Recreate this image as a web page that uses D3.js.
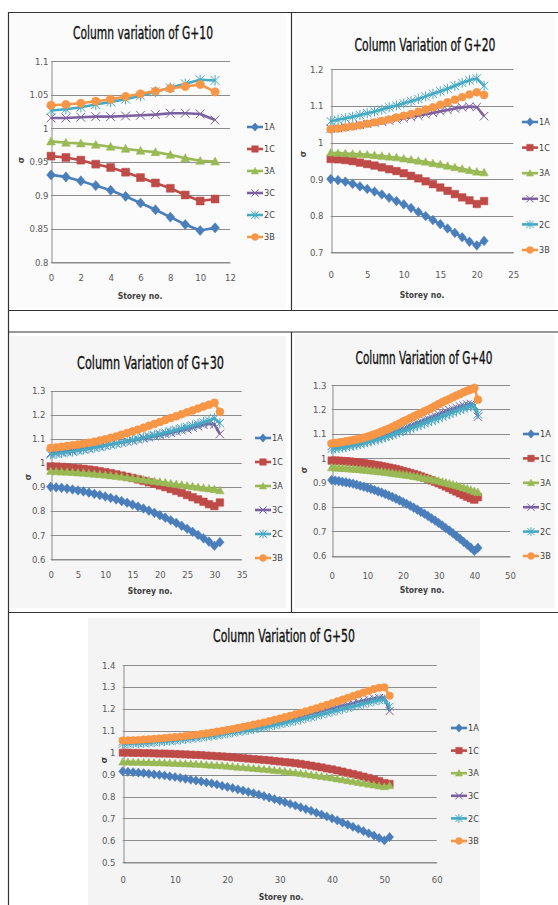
<!DOCTYPE html>
<html>
<head>
<meta charset="utf-8">
<script src="https://cdn.jsdelivr.net/npm/d3@7"></script>
<style>
  body { margin: 0; background: #fff; }
  svg { display: block; }
</style>
</head>
<body>
<svg id="chart" width="558" height="905"></svg>
<script>
// ---- Series names and colours ----
const seriesNames = ["1A", "1C", "3A", "3C", "2C", "3B"];
const seriesColors = ["#4a7ebb", "#be4b48", "#98b954", "#7d60a0", "#46aac5", "#f79646"];
const seriesMarkers = ["diamond", "square", "triangle", "x", "star", "circle"];

// ---- G+10 (storeys 0..11) ----
const g10_1A = [0.930, 0.927, 0.921, 0.914, 0.907, 0.898, 0.888, 0.878, 0.867, 0.856, 0.847, 0.851];
const g10_1C = [0.958, 0.956, 0.952, 0.946, 0.941, 0.934, 0.926, 0.918, 0.910, 0.900, 0.891, 0.894];
const g10_3A = [0.980, 0.978, 0.977, 0.975, 0.972, 0.969, 0.966, 0.964, 0.960, 0.955, 0.951, 0.950];
const g10_3C = [1.015, 1.015, 1.016, 1.017, 1.017, 1.018, 1.019, 1.020, 1.022, 1.022, 1.021, 1.012];
const g10_2C = [1.026, 1.028, 1.031, 1.035, 1.039, 1.043, 1.048, 1.054, 1.060, 1.066, 1.072, 1.071];
const g10_3B = [1.034, 1.035, 1.037, 1.040, 1.043, 1.047, 1.051, 1.055, 1.059, 1.062, 1.065, 1.054];

// ---- G+20 (storeys 0..21) ----
const g20_1A = [0.900, 0.897, 0.893, 0.887, 0.880, 0.873, 0.866, 0.858, 0.849, 0.840, 0.831, 0.821, 0.810, 0.799, 0.788, 0.777, 0.765, 0.753, 0.741, 0.729, 0.719, 0.731];
const g20_1C = [0.955, 0.954, 0.952, 0.949, 0.945, 0.941, 0.937, 0.932, 0.927, 0.922, 0.916, 0.909, 0.902, 0.894, 0.886, 0.877, 0.868, 0.859, 0.850, 0.842, 0.832, 0.840];
const g20_3A = [0.972, 0.971, 0.970, 0.969, 0.968, 0.967, 0.965, 0.963, 0.961, 0.959, 0.956, 0.953, 0.950, 0.947, 0.943, 0.940, 0.936, 0.932, 0.928, 0.924, 0.920, 0.918];
const g20_3C = [1.038, 1.040, 1.042, 1.045, 1.048, 1.051, 1.054, 1.057, 1.060, 1.063, 1.066, 1.070, 1.073, 1.077, 1.081, 1.085, 1.089, 1.093, 1.096, 1.098, 1.097, 1.072];
const g20_2C = [1.058, 1.062, 1.066, 1.070, 1.075, 1.080, 1.085, 1.090, 1.096, 1.101, 1.107, 1.113, 1.119, 1.126, 1.133, 1.140, 1.147, 1.155, 1.163, 1.170, 1.175, 1.155];
const g20_3B = [1.036, 1.038, 1.041, 1.044, 1.047, 1.051, 1.055, 1.059, 1.063, 1.068, 1.073, 1.078, 1.084, 1.090, 1.096, 1.103, 1.110, 1.117, 1.124, 1.131, 1.137, 1.130];

// ---- G+30 (storeys 0..31) ----
const g30_1A = [0.900, 0.898, 0.896, 0.893, 0.889, 0.885, 0.881, 0.876, 0.871, 0.866, 0.860, 0.854, 0.848, 0.841, 0.834, 0.826, 0.818, 0.810, 0.801, 0.792, 0.782, 0.772, 0.761, 0.750, 0.738, 0.726, 0.713, 0.700, 0.686, 0.672, 0.655, 0.670];
const g30_1C = [0.985, 0.984, 0.983, 0.981, 0.979, 0.977, 0.975, 0.972, 0.969, 0.965, 0.961, 0.957, 0.952, 0.947, 0.942, 0.937, 0.931, 0.925, 0.919, 0.913, 0.906, 0.899, 0.891, 0.883, 0.875, 0.866, 0.857, 0.848, 0.838, 0.828, 0.820, 0.835];
const g30_3A = [0.965, 0.964, 0.963, 0.962, 0.961, 0.959, 0.958, 0.956, 0.954, 0.952, 0.950, 0.947, 0.945, 0.942, 0.939, 0.936, 0.933, 0.930, 0.927, 0.924, 0.921, 0.918, 0.914, 0.911, 0.908, 0.905, 0.902, 0.899, 0.896, 0.893, 0.890, 0.885];
const g30_3C = [1.040, 1.043, 1.046, 1.049, 1.052, 1.055, 1.058, 1.062, 1.065, 1.069, 1.073, 1.077, 1.081, 1.085, 1.089, 1.093, 1.097, 1.102, 1.106, 1.111, 1.115, 1.120, 1.125, 1.130, 1.135, 1.140, 1.146, 1.152, 1.158, 1.163, 1.160, 1.120];
const g30_2C = [1.035, 1.038, 1.041, 1.044, 1.047, 1.051, 1.055, 1.059, 1.063, 1.067, 1.071, 1.076, 1.080, 1.085, 1.090, 1.095, 1.100, 1.105, 1.110, 1.115, 1.120, 1.126, 1.131, 1.137, 1.143, 1.149, 1.155, 1.162, 1.169, 1.176, 1.185, 1.165];
const g30_3B = [1.062, 1.064, 1.067, 1.070, 1.073, 1.076, 1.080, 1.084, 1.088, 1.093, 1.098, 1.104, 1.110, 1.117, 1.124, 1.131, 1.138, 1.146, 1.154, 1.162, 1.170, 1.178, 1.186, 1.194, 1.202, 1.210, 1.218, 1.226, 1.234, 1.242, 1.250, 1.212];

// ---- G+40 (storeys 0..41) ----
const g40_1A = [0.910, 0.908, 0.906, 0.903, 0.901, 0.898, 0.895, 0.891, 0.887, 0.883, 0.879, 0.874, 0.869, 0.864, 0.859, 0.853, 0.847, 0.841, 0.834, 0.827, 0.820, 0.813, 0.805, 0.797, 0.789, 0.780, 0.772, 0.763, 0.753, 0.744, 0.734, 0.724, 0.713, 0.703, 0.692, 0.680, 0.669, 0.657, 0.645, 0.633, 0.620, 0.632];
const g40_1C = [0.990, 0.990, 0.989, 0.988, 0.987, 0.986, 0.984, 0.983, 0.981, 0.979, 0.977, 0.975, 0.972, 0.970, 0.967, 0.964, 0.961, 0.958, 0.955, 0.951, 0.947, 0.943, 0.939, 0.935, 0.930, 0.925, 0.920, 0.915, 0.909, 0.903, 0.897, 0.891, 0.884, 0.877, 0.870, 0.863, 0.856, 0.849, 0.842, 0.836, 0.830, 0.840];
const g40_3A = [0.962, 0.961, 0.960, 0.959, 0.958, 0.957, 0.956, 0.955, 0.954, 0.952, 0.951, 0.949, 0.948, 0.946, 0.945, 0.943, 0.941, 0.939, 0.937, 0.935, 0.933, 0.931, 0.929, 0.926, 0.924, 0.921, 0.918, 0.916, 0.913, 0.910, 0.907, 0.903, 0.900, 0.896, 0.892, 0.888, 0.884, 0.879, 0.875, 0.870, 0.865, 0.860];
const g40_3C = [1.050, 1.051, 1.052, 1.054, 1.056, 1.058, 1.060, 1.063, 1.066, 1.069, 1.072, 1.076, 1.080, 1.084, 1.088, 1.093, 1.098, 1.103, 1.108, 1.114, 1.120, 1.126, 1.132, 1.138, 1.144, 1.150, 1.156, 1.162, 1.168, 1.174, 1.180, 1.186, 1.192, 1.197, 1.202, 1.207, 1.212, 1.216, 1.220, 1.222, 1.215, 1.170];
const g40_2C = [1.038, 1.040, 1.042, 1.044, 1.046, 1.049, 1.052, 1.055, 1.058, 1.062, 1.066, 1.070, 1.074, 1.078, 1.082, 1.087, 1.092, 1.097, 1.102, 1.107, 1.112, 1.117, 1.122, 1.127, 1.133, 1.138, 1.143, 1.149, 1.154, 1.160, 1.165, 1.171, 1.176, 1.182, 1.188, 1.194, 1.199, 1.204, 1.209, 1.213, 1.215, 1.180];
const g40_3B = [1.060, 1.062, 1.064, 1.066, 1.069, 1.071, 1.074, 1.077, 1.080, 1.084, 1.088, 1.093, 1.098, 1.103, 1.109, 1.115, 1.121, 1.128, 1.135, 1.142, 1.150, 1.157, 1.164, 1.171, 1.178, 1.185, 1.192, 1.199, 1.206, 1.214, 1.222, 1.229, 1.236, 1.243, 1.250, 1.257, 1.263, 1.270, 1.276, 1.282, 1.288, 1.240];

// ---- G+50 (storeys 0..51) ----
const g50_1A = [0.915, 0.913, 0.911, 0.909, 0.907, 0.904, 0.901, 0.899, 0.896, 0.892, 0.889, 0.885, 0.881, 0.877, 0.873, 0.869, 0.864, 0.860, 0.855, 0.849, 0.844, 0.839, 0.833, 0.827, 0.821, 0.815, 0.809, 0.802, 0.795, 0.788, 0.781, 0.774, 0.766, 0.759, 0.751, 0.743, 0.735, 0.726, 0.718, 0.709, 0.700, 0.691, 0.681, 0.672, 0.662, 0.652, 0.642, 0.632, 0.622, 0.611, 0.600, 0.615];
const g50_1C = [1.000, 1.000, 0.999, 0.999, 0.998, 0.998, 0.997, 0.996, 0.996, 0.995, 0.994, 0.993, 0.992, 0.991, 0.990, 0.989, 0.987, 0.986, 0.984, 0.983, 0.981, 0.979, 0.977, 0.975, 0.973, 0.971, 0.969, 0.967, 0.965, 0.962, 0.960, 0.957, 0.955, 0.952, 0.949, 0.945, 0.941, 0.937, 0.933, 0.928, 0.924, 0.919, 0.914, 0.908, 0.903, 0.897, 0.891, 0.885, 0.878, 0.871, 0.862, 0.858];
const g50_3A = [0.958, 0.958, 0.957, 0.957, 0.956, 0.956, 0.955, 0.955, 0.954, 0.953, 0.952, 0.951, 0.950, 0.949, 0.948, 0.947, 0.945, 0.944, 0.942, 0.941, 0.939, 0.937, 0.935, 0.933, 0.931, 0.929, 0.927, 0.925, 0.923, 0.920, 0.918, 0.915, 0.912, 0.909, 0.906, 0.903, 0.899, 0.896, 0.892, 0.889, 0.885, 0.881, 0.877, 0.873, 0.869, 0.865, 0.861, 0.857, 0.853, 0.849, 0.845, 0.850];
const g50_3C = [1.050, 1.051, 1.052, 1.053, 1.054, 1.055, 1.057, 1.059, 1.061, 1.063, 1.065, 1.067, 1.070, 1.073, 1.076, 1.079, 1.082, 1.085, 1.089, 1.093, 1.097, 1.101, 1.105, 1.109, 1.113, 1.118, 1.123, 1.128, 1.133, 1.138, 1.143, 1.148, 1.154, 1.160, 1.166, 1.172, 1.178, 1.184, 1.190, 1.196, 1.202, 1.208, 1.214, 1.220, 1.226, 1.232, 1.238, 1.243, 1.247, 1.250, 1.250, 1.190];
const g50_2C = [1.040, 1.041, 1.042, 1.043, 1.044, 1.046, 1.048, 1.050, 1.052, 1.054, 1.056, 1.059, 1.062, 1.065, 1.068, 1.071, 1.074, 1.077, 1.080, 1.084, 1.088, 1.092, 1.096, 1.100, 1.104, 1.108, 1.112, 1.116, 1.121, 1.126, 1.131, 1.136, 1.141, 1.146, 1.151, 1.157, 1.163, 1.169, 1.175, 1.181, 1.187, 1.193, 1.199, 1.205, 1.211, 1.217, 1.223, 1.229, 1.235, 1.240, 1.243, 1.210];
const g50_3B = [1.055, 1.056, 1.057, 1.058, 1.060, 1.061, 1.063, 1.065, 1.067, 1.069, 1.071, 1.073, 1.076, 1.079, 1.082, 1.085, 1.088, 1.092, 1.096, 1.100, 1.104, 1.108, 1.113, 1.118, 1.123, 1.128, 1.133, 1.138, 1.144, 1.150, 1.156, 1.162, 1.168, 1.175, 1.182, 1.189, 1.196, 1.203, 1.210, 1.218, 1.226, 1.234, 1.242, 1.250, 1.258, 1.266, 1.274, 1.282, 1.290, 1.296, 1.298, 1.260];

// ---- Titles and axis ticks ----
const titles = ["Column variation of G+10", "Column Variation of G+20", "Column Variation of G+30", "Column Variation of G+40", "Column Variation of G+50"];
const xTicks10 = [0, 2, 4, 6, 8, 10, 12];
const xTicks20 = [0, 5, 10, 15, 20, 25];
const xTicks30 = [0, 5, 10, 15, 20, 25, 30, 35];
const xTicks40 = [0, 10, 20, 30, 40, 50];
const xTicks50 = [0, 10, 20, 30, 40, 50, 60];
const yTicks10 = [0.8, 0.85, 0.9, 0.95, 1, 1.05, 1.1];
const yTicks20 = [0.7, 0.8, 0.9, 1, 1.1, 1.2];
const yTicks30 = [0.6, 0.7, 0.8, 0.9, 1, 1.1, 1.2, 1.3];
const yTicks40 = [0.6, 0.7, 0.8, 0.9, 1, 1.1, 1.2, 1.3];
const yTicks50 = [0.5, 0.6, 0.7, 0.8, 0.9, 1, 1.1, 1.2, 1.3, 1.4];
const xLabel = "Storey no.";
const yLabel = "σ";

// ---- Panel layout ----
const panels = [
  { title: titles[0], series: [g10_1A, g10_1C, g10_3A, g10_3C, g10_2C, g10_3B], xTicks: xTicks10, yTicks: yTicks10,
    bg: [10, 14, 276, 294], bgFill: "#fbfbfb",
    left: 51, right: 230, top: 61, bottom: 262, yPad: 3, xLabY: 280,
    titleX: 143, titleY: 39, titleW: 140, axX: 140, axY: 299, sigX: 21, sigY: 160,
    legX: 247, legY: 127, legStep: 22, mk: 4.4, lw: 2.6 },
  { title: titles[1], series: [g20_1A, g20_1C, g20_3A, g20_3C, g20_2C, g20_3B], xTicks: xTicks20, yTicks: yTicks20,
    bg: [295, 14, 260, 294], bgFill: "#fbfbfb",
    left: 330.7, right: 513.3, top: 69.3, bottom: 252.3, yPad: 8, xLabY: 277,
    titleX: 425, titleY: 51, titleW: 141, axX: 422, axY: 298, sigX: 303, sigY: 154,
    legX: 522, legY: 122, legStep: 25.6, mk: 4.2, lw: 2.6 },
  { title: titles[2], series: [g30_1A, g30_1C, g30_3A, g30_3C, g30_2C, g30_3B], xTicks: xTicks30, yTicks: yTicks30,
    bg: [10, 336, 276, 272], bgFill: "#f6f6f6",
    left: 50.7, right: 241.7, top: 390.7, bottom: 559, yPad: 6, xLabY: 577,
    titleX: 150.5, titleY: 369, titleW: 147, axX: 150, axY: 594, sigX: 28, sigY: 477,
    legX: 255, legY: 438, legStep: 24, mk: 4.2, lw: 2.6 },
  { title: titles[3], series: [g40_1A, g40_1C, g40_3A, g40_3C, g40_2C, g40_3B], xTicks: xTicks40, yTicks: yTicks40,
    bg: [295, 334, 260, 274], bgFill: "#f6f6f6",
    left: 331.7, right: 510, top: 385, bottom: 555.7, yPad: 6, xLabY: 578,
    titleX: 424, titleY: 364, titleW: 137, axX: 422, axY: 593, sigX: 304, sigY: 470,
    legX: 523, legY: 434, legStep: 24.4, mk: 4.2, lw: 2.6 },
  { title: titles[4], series: [g50_1A, g50_1C, g50_3A, g50_3C, g50_2C, g50_3B], xTicks: xTicks50, yTicks: yTicks50,
    bg: [88, 618, 392, 287], bgFill: "#f4f4f4",
    left: 122.7, right: 436.7, top: 665, bottom: 862.3, yPad: 8, xLabY: 882,
    titleX: 284, titleY: 642, titleW: 142, axX: 281, axY: 900, sigX: 104, sigY: 760,
    legX: 451, legY: 728, legStep: 22.6, mk: 4.0, lw: 2.6 }
];

const FONT = "'Liberation Sans Narrow', 'DejaVu Sans Condensed', 'Open Sans', sans-serif";
const svg = d3.select("#chart");

// Marker path for a given shape and half-size
function markerPath(shape, s) {
  switch (shape) {
    case "diamond": return `M0,${-s * 1.15}L${s},0L0,${s * 1.15}L${-s},0Z`;
    case "square": return `M${-s * 0.9},${-s * 0.9}h${s * 1.8}v${s * 1.8}h${-s * 1.8}Z`;
    case "triangle": return `M0,${-s}L${s},${s * 0.8}L${-s},${s * 0.8}Z`;
    case "x": return `M${-s},${-s}L${s},${s}M${-s},${s}L${s},${-s}`;
    case "star": return `M${-s},${-s}L${s},${s}M${-s},${s}L${s},${-s}M0,${-s * 1.2}L0,${s * 1.2}`;
    case "circle": return d3.arc()({ innerRadius: 0, outerRadius: s * 0.95, startAngle: 0, endAngle: 2 * Math.PI });
  }
}
const stroked = shape => shape === "x" || shape === "star";

function drawMarker(g, shape, color, cx, cy, s) {
  g.append("path")
    .attr("d", markerPath(shape, s))
    .attr("transform", `translate(${cx},${cy})`)
    .attr("fill", stroked(shape) ? "none" : color)
    .attr("stroke", color)
    .attr("stroke-width", stroked(shape) ? 1 : 0.5);
}

function drawPanel(p) {
  const g = svg.append("g");
  g.append("rect")
    .attr("x", p.bg[0]).attr("y", p.bg[1]).attr("width", p.bg[2]).attr("height", p.bg[3])
    .attr("fill", p.bgFill);

  const x = d3.scaleLinear().domain([p.xTicks[0], p.xTicks[p.xTicks.length - 1]]).range([p.left, p.right]);
  const y = d3.scaleLinear().domain([p.yTicks[0], p.yTicks[p.yTicks.length - 1]]).range([p.bottom, p.top]);

  // horizontal gridlines
  g.append("g").selectAll("line").data(p.yTicks).join("line")
    .attr("x1", p.left).attr("x2", p.right)
    .attr("y1", d => Math.round(y(d)) + 0.5).attr("y2", d => Math.round(y(d)) + 0.5)
    .attr("stroke", "#8c8c8c").attr("stroke-width", 1);

  // y axis
  const yAxis = g.append("g").attr("transform", `translate(${Math.round(p.left) + 0.5},0)`)
    .call(d3.axisLeft(y).tickValues(p.yTicks).tickSize(0).tickSizeOuter(0).tickPadding(p.yPad)
      .tickFormat(d => String(+d.toFixed(2))));
  yAxis.select(".domain").attr("stroke", "#8c8c8c");
  yAxis.selectAll("text").attr("font-family", FONT).attr("font-size", 9.5).attr("fill", "#595959");

  // x axis
  const xAxis = g.append("g").attr("transform", `translate(0,${Math.round(p.bottom) + 0.5})`)
    .call(d3.axisBottom(x).tickValues(p.xTicks).tickSize(0).tickSizeOuter(0).tickPadding(0)
      .tickFormat(d3.format("d")));
  xAxis.select(".domain").attr("stroke", "#8c8c8c");
  xAxis.selectAll("text").attr("font-family", FONT).attr("font-size", 9.5).attr("fill", "#595959")
    .attr("dy", null).attr("y", p.xLabY - Math.round(p.bottom));

  // title: tall condensed lettering, squeezed horizontally to its column width
  const tg = g.append("g");
  const tt = tg.append("text").attr("x", 0).attr("y", 0).attr("text-anchor", "middle")
    .attr("font-family", FONT).attr("font-size", 17.5).attr("fill", "#111")
    .attr("stroke", "#111").attr("stroke-width", 0.35)
    .text(p.title);
  const natural = tt.node().getComputedTextLength();
  const sx = Math.min(1, p.titleW / natural);
  tg.attr("transform", `translate(${p.titleX},${p.titleY}) scale(${sx},1)`);

  // axis titles
  g.append("text").attr("x", p.axX).attr("y", p.axY).attr("text-anchor", "middle")
    .attr("font-family", FONT).attr("font-size", 8.5).attr("font-weight", "bold").attr("fill", "#404040")
    .text(xLabel);
  g.append("text").attr("transform", `translate(${p.sigX},${p.sigY}) rotate(-90)`)
    .attr("text-anchor", "middle").attr("dy", "0.35em")
    .attr("font-family", FONT).attr("font-size", 9).attr("font-weight", "bold").attr("fill", "#404040")
    .text(yLabel);

  // series lines and markers
  const line = d3.line().x((d, i) => x(i)).y(d => y(d));
  p.series.forEach((vals, si) => {
    const color = seriesColors[si];
    const sg = g.append("g");
    sg.append("path").datum(vals).attr("d", line)
      .attr("fill", "none").attr("stroke", color).attr("stroke-width", p.lw)
      .attr("stroke-linejoin", "round");
    vals.forEach((v, i) => drawMarker(sg, seriesMarkers[si], color, x(i), y(v), p.mk));
  });

  // legend
  seriesNames.forEach((name, si) => {
    const ly = p.legY + si * p.legStep;
    const color = seriesColors[si];
    g.append("line").attr("x1", p.legX).attr("x2", p.legX + 16).attr("y1", ly).attr("y2", ly)
      .attr("stroke", color).attr("stroke-width", 2.6);
    drawMarker(g, seriesMarkers[si], color, p.legX + 8, ly, 3.6);
    g.append("text").attr("x", p.legX + 17).attr("y", ly).attr("dy", "0.35em")
      .attr("font-family", FONT).attr("font-size", 9).attr("fill", "#404040")
      .text(name);
  });
}

panels.forEach(drawPanel);

// ---- Frame lines around the panels ----
const frame = svg.append("g").attr("stroke", "#333").attr("stroke-width", 1.2);
[[8, 12.5, 558, 12.5], [8, 310.5, 558, 310.5], [8, 332, 558, 332], [8, 612.5, 558, 612.5],
 [8.5, 12, 8.5, 905], [291.5, 12, 291.5, 310.5], [291.5, 332, 291.5, 612.5]]
  .forEach(([x1, y1, x2, y2]) => frame.append("line").attr("x1", x1).attr("y1", y1).attr("x2", x2).attr("y2", y2));
</script>
</body>
</html>
